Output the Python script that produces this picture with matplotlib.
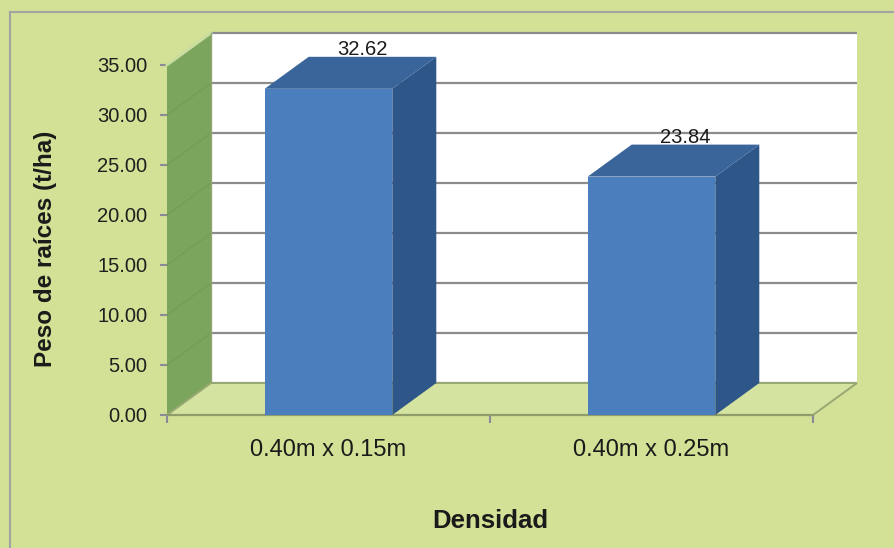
import matplotlib
matplotlib.use("Agg")
import matplotlib.pyplot as plt
from matplotlib.patches import Polygon, Rectangle
from matplotlib.lines import Line2D

# ---- data ----
categories = ["0.40m x 0.15m", "0.40m x 0.25m"]
values = [32.62, 23.84]
value_labels = ["32.62", "23.84"]
yticks = [0, 5, 10, 15, 20, 25, 30, 35]
ytick_labels = ["0.00", "5.00", "10.00", "15.00", "20.00", "25.00", "30.00", "35.00"]
ylabel = "Peso de raíces (t/ha)"
xlabel = "Densidad"

plt.rcParams['font.family'] = ['Liberation Sans', 'DejaVu Sans']

W, H = 895, 548
fig = plt.figure(figsize=(W / 100, H / 100), dpi=100)
bg = '#D2E196'
fig.patch.set_facecolor(bg)

# figure frame (left and top visible)
fig.add_artist(Line2D([10 / W, 10 / W], [0, 1 - 12 / H], transform=fig.transFigure,
                      color='#A3A3A3', lw=1.5))
fig.add_artist(Line2D([10 / W, 1], [1 - 12 / H, 1 - 12 / H], transform=fig.transFigure,
                      color='#A3A3A3', lw=1.5))

# front plane axes
x0, x1, yb, yt = 167, 813, 415, 65
ax = fig.add_axes([x0 / W, 1 - yb / H, (x1 - x0) / W, (yb - yt) / H])
ax.set_facecolor('none')
ax.set_xlim(0, 2)
ax.set_ylim(0, 35)
for s in ax.spines.values():
    s.set_visible(False)

ymax = 35
dx = 44 / ((x1 - x0) / 2)   # depth offset in category units
dy = 3.2                    # depth offset in value units

# back wall
ax.add_patch(Polygon([(dx, dy), (2 + dx, dy), (2 + dx, ymax + dy), (dx, ymax + dy)],
                     closed=True, facecolor='white', edgecolor='none', clip_on=False, zorder=1))
for t in yticks:
    ax.plot([dx, 2 + dx], [t + dy, t + dy], color='#8C8C8C', lw=1.6, clip_on=False, zorder=2,
            solid_capstyle='butt')

# left wall
ax.add_patch(Polygon([(0, 0), (dx, dy), (dx, ymax + dy), (0, ymax)],
                     closed=True, facecolor='#7BA55C', edgecolor='none', clip_on=False, zorder=2))
for t in yticks[1:-1]:
    ax.plot([0, dx], [t, t + dy], color='#74995A', lw=0.8, clip_on=False, zorder=2.5)
ax.plot([0, dx], [ymax, ymax + dy], color='#C9DDA0', lw=2.0, clip_on=False, zorder=2.6)
ax.plot([dx, dx], [dy, ymax + dy], color='#8FA874', lw=1.0, clip_on=False, zorder=2.6)

# floor
ax.add_patch(Polygon([(0, 0), (2, 0), (2 + dx, dy), (dx, dy)],
                     closed=True, facecolor='#D5E3A0', edgecolor='#98A872', lw=1.4,
                     clip_on=False, zorder=3))
ax.plot([0, 2], [0, 0], color='#8E9C6A', lw=1.6, clip_on=False, zorder=3.1)

# bars
bw = 0.395
front_c = '#4A7EBD'
side_c = '#2F5688'
top_c = '#3A659B'
centers = [i + 0.5 for i in range(len(values))]
for c, v, lab in zip(centers, values, value_labels):
    l, r = c - bw / 2, c + bw / 2
    ax.add_patch(Polygon([(r, 0), (r + dx, dy), (r + dx, v + dy), (r, v)], closed=True,
                         facecolor=side_c, edgecolor='none', clip_on=False, zorder=4))
    ax.add_patch(Polygon([(l, v), (l + dx, v + dy), (r + dx, v + dy), (r, v)], closed=True,
                         facecolor=top_c, edgecolor='none', clip_on=False, zorder=4))
    ax.add_patch(Rectangle((l, 0), bw, v, facecolor=front_c, edgecolor='none',
                           clip_on=False, zorder=5))
    ax.text(c + 0.105, v + dy + 0.15, lab, ha='center', va='baseline', fontsize=14.5,
            color='#1A1A1A', zorder=6, clip_on=False)

# y axis ticks
ax.set_yticks(yticks)
ax.set_yticklabels(ytick_labels)
ax.tick_params(axis='y', length=5, width=1.5, color='#8A8A9A', labelsize=14.5,
               labelcolor='#1F1F1F', pad=9)

# x axis ticks: major (marks) at boundaries, minor (labels) at centers
ax.set_xticks([0, 1, 2])
ax.set_xticklabels([])
ax.tick_params(axis='x', which='major', length=6, width=1.5, color='#8A8A9A', direction='out')
ax.set_xticks(centers, minor=True)
ax.set_xticklabels(categories, minor=True)
ax.tick_params(axis='x', which='minor', length=0, labelsize=17, labelcolor='#1A1A1A', pad=17)

ax.set_ylabel(ylabel, fontsize=17.5, fontweight='bold', color='#1A1A1A', va='center')
ax.yaxis.set_label_coords((46 - x0) / (x1 - x0), (yb - 249) / (yb - yt))
ax.set_xlabel(xlabel, fontsize=18.5, fontweight='bold', color='#1A1A1A', va='center')
ax.xaxis.set_label_coords(0.5, (yb - 521) / (yb - yt))

fig.savefig('out.png', dpi=100, facecolor=bg)
